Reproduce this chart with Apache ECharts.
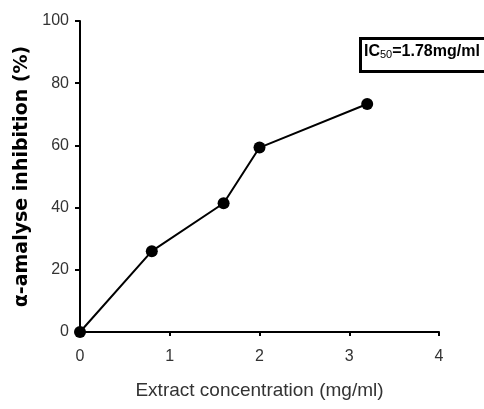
<!DOCTYPE html>
<html>
<head>
<meta charset="utf-8">
<script src="https://cdn.jsdelivr.net/npm/echarts@6/dist/echarts.min.js"></script>
<style>
  html, body { margin: 0; padding: 0; background: #fff; }
  #chart { width: 484px; height: 409px; }
</style>
</head>
<body>
<div id="chart"></div>
<script>
  // data
  var concentrations = [0, 0.8, 1.6, 2.0, 3.2]
  var inhibition = [0, 26, 41.4, 59.3, 73.3]
  var xTicks = [0, 1, 2, 3, 4]
  var yTicks = [0, 20, 40, 60, 80, 100]

  var narrow = '"Liberation Sans Narrow", "Liberation Sans", Arial, sans-serif'
  var points = concentrations.map(function (x, i) { return [x, inhibition[i]] })

  var chart = echarts.init(document.getElementById('chart'))
  chart.setOption({
    animation: false,
    grid: { left: 80, right: 45, top: 21, bottom: 77 },
    xAxis: {
      type: 'value',
      min: xTicks[0],
      max: xTicks[xTicks.length - 1],
      interval: 1,
      name: 'Extract concentration (mg/ml)',
      nameLocation: 'middle',
      nameGap: 49,
      nameTextStyle: { fontFamily: narrow, fontSize: 19, color: '#333' },
      axisLine: { lineStyle: { color: '#000', width: 2 } },
      axisTick: { show: true, length: 4, lineStyle: { color: '#000', width: 2 } },
      axisLabel: { fontFamily: narrow, fontSize: 16, color: '#333', margin: 17 },
      splitLine: { show: false }
    },
    yAxis: {
      type: 'value',
      min: yTicks[0],
      max: yTicks[yTicks.length - 1],
      interval: 20,
      name: 'α-amalyse inhibition (%)',
      nameLocation: 'middle',
      nameGap: 45,
      nameTextStyle: { fontFamily: '"DejaVu Sans", sans-serif', fontSize: 19, fontWeight: 'bold', color: '#000' },
      axisLine: { show: true, lineStyle: { color: '#000', width: 2 } },
      axisTick: { show: true, length: 5, lineStyle: { color: '#000', width: 2 } },
      axisLabel: { fontFamily: narrow, fontSize: 16, color: '#333', margin: 11 },
      splitLine: { show: false }
    },
    series: [{
      type: 'line',
      data: points,
      symbol: 'circle',
      symbolSize: 12,
      clip: false,
      itemStyle: { color: '#000' },
      lineStyle: { color: '#000', width: 2 }
    }],
    graphic: [{
      type: 'rect',
      left: 359,
      top: 37,
      shape: { width: 140, height: 33 },
      style: { fill: '#fff', stroke: '#000', lineWidth: 3 }
    }, {
      type: 'text',
      left: 364,
      top: 44,
      style: {
        text: '{a|IC}{s|50}{a|=1.78mg/ml}',
        rich: {
          a: { fontFamily: narrow, fontSize: 16, fontWeight: 'bold', fill: '#000', verticalAlign: 'bottom' },
          s: { fontFamily: narrow, fontSize: 11, fill: '#000', padding: [6, 0, 0, 0], verticalAlign: 'bottom' }
        }
      }
    }]
  })
</script>
</body>
</html>
